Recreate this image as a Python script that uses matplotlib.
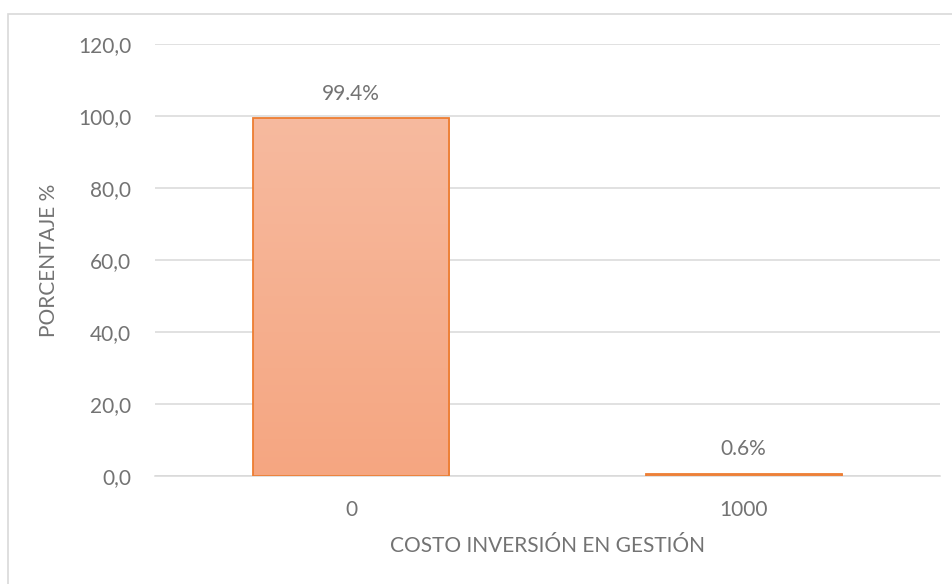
import matplotlib
matplotlib.use("Agg")
import matplotlib.pyplot as plt
import numpy as np
from matplotlib.patches import Rectangle
from matplotlib.colors import LinearSegmentedColormap

categories = ["0", "1000"]
values = [99.4, 0.6]
labels = ["99.4%", "0.6%"]
yticks = [0, 20, 40, 60, 80, 100, 120]
ytick_labels = ["0,0", "20,0", "40,0", "60,0", "80,0", "100,0", "120,0"]

plt.rcParams['font.family'] = ['Lato', 'DejaVu Sans']
gray = "#737373"
fs = 15

fig = plt.figure(figsize=(9.53, 5.84), dpi=100)
fig.patch.set_facecolor("white")
fig.add_artist(Rectangle((8/953, -0.05), 1.0, 1.05 - 14/584, transform=fig.transFigure,
                         fill=False, edgecolor="#D9D9D9", linewidth=1.2))

ax = fig.add_axes([155/953, 1-476/584, 785/953, 432/584])
x = np.arange(len(categories))
width = 0.5
cmap = LinearSegmentedColormap.from_list("g", ["#F5A681", "#F7BEA5"])
bars = ax.bar(x, values, width=width, facecolor="none", edgecolor="#ED7D31", linewidth=1.3, zorder=3)
for b in bars:
    h = b.get_height()
    grad = np.linspace(0, 1, 256).reshape(-1, 1)
    im = ax.imshow(grad, cmap=cmap, origin="lower", aspect="auto",
                   extent=[b.get_x(), b.get_x() + b.get_width(), 0, 120], zorder=2)
    clip = Rectangle((b.get_x(), 0), b.get_width(), h, transform=ax.transData)
    im.set_clip_path(clip)

for xi, v, lab in zip(x, values, labels):
    ax.text(xi, v + 4.0, lab, ha="center", va="bottom", fontsize=fs, color=gray)

ax.set_xlim(-0.5, 1.5)
ax.set_ylim(0, 120)
ax.set_yticks(yticks)
ax.set_yticklabels(ytick_labels)
ax.set_xticks(x)
ax.set_xticklabels(categories)
ax.tick_params(axis="both", length=0, labelsize=fs, labelcolor=gray)
ax.tick_params(axis="y", pad=17)
ax.tick_params(axis="x", pad=17)
ax.grid(axis="y", color="#D9D9D9", linewidth=1.1, zorder=0)
ax.set_axisbelow(True)
for s in ["top", "right", "left"]:
    ax.spines[s].set_visible(False)
ax.spines["bottom"].set_color("#D9D9D9")
ax.spines["bottom"].set_linewidth(1.1)

ax.set_ylabel("PORCENTAJE %", fontsize=fs, color=gray, labelpad=14)
ax.set_xlabel("COSTO INVERSIÓN EN GESTIÓN", fontsize=fs, color=gray, labelpad=12)

fig.savefig("out.png", dpi=100, facecolor="white")
